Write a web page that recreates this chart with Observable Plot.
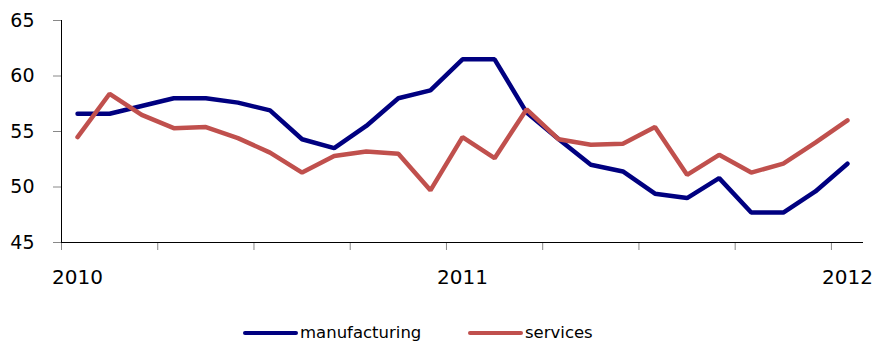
<!DOCTYPE html>
<html>
<head>
<meta charset="utf-8">
<script src="https://cdn.jsdelivr.net/npm/d3@7"></script>
<script src="https://cdn.jsdelivr.net/npm/@observablehq/plot@0.6"></script>
<style>
  html, body { margin: 0; padding: 0; background: #fff; }
  #wrap { width: 874px; height: 344px; position: relative; font-family: "DejaVu Sans", sans-serif; }
  #legend { position: absolute; left: 0; top: 300px; width: 874px; height: 44px; }
  .item { position: absolute; top: 23px; display: flex; align-items: center; font-size: 16.5px; color: #000; }
  .sw { width: 55px; height: 4px; border-radius: 2px; margin-right: 2px; }
</style>
</head>
<body>
<div id="wrap">
  <div id="chart"></div>
  <div id="legend"></div>
</div>
<script>
const months = ["2010-01","2010-02","2010-03","2010-04","2010-05","2010-06","2010-07","2010-08","2010-09","2010-10","2010-11","2010-12",
                "2011-01","2011-02","2011-03","2011-04","2011-05","2011-06","2011-07","2011-08","2011-09","2011-10","2011-11","2011-12","2012-01"];
const manufacturing = [56.6,56.6,57.3,58.0,58.0,57.6,56.9,54.3,53.5,55.5,58.0,58.7,61.5,61.5,56.7,54.3,52.0,51.4,49.4,49.0,50.8,47.7,47.7,49.6,52.1];
const services = [54.5,58.4,56.5,55.3,55.4,54.4,53.1,51.3,52.8,53.2,53.0,49.7,54.5,52.6,57.0,54.3,53.8,53.9,55.4,51.1,52.9,51.3,52.1,54.0,56.0];
const seriesNames = ["manufacturing", "services"];
const seriesColors = ["#000080", "#C0504D"];
const yearLabels = ["2010", "2011", "2012"];
const yTicks = [45, 50, 55, 60, 65];

const data = [];
months.forEach((m, i) => {
  data.push({i, month: m, series: seriesNames[0], value: manufacturing[i]});
  data.push({i, month: m, series: seriesNames[1], value: services[i]});
});
const yearIdx = yearLabels.map(y => months.indexOf(y + "-01"));
const boundaryTicks = d3.range(-0.5, months.length - 1, 3);

const chart = Plot.plot({
  width: 874,
  height: 300,
  marginLeft: 61,
  marginRight: 11,
  marginTop: 20,
  marginBottom: 58,
  style: {fontFamily: "DejaVu Sans, sans-serif", fontSize: "19px", color: "#000", background: "#fff"},
  x: {domain: [-0.5, months.length - 0.5]},
  y: {domain: [45, 65]},
  color: {domain: seriesNames, range: seriesColors},
  marks: [
    Plot.axisY({ticks: yTicks, tickSize: 8, tickPadding: 19, label: null, stroke: "#888", fontSize: 19}),
    Plot.axisX({ticks: boundaryTicks, tickSize: 8, tickFormat: () => "", label: null, stroke: "#888"}),
    Plot.axisX({ticks: yearIdx, tickSize: 0, tickPadding: 27, tickFormat: (d) => yearLabels[yearIdx.indexOf(d)], label: null, fontSize: 20}),
    Plot.ruleY([45], {stroke: "#000"}),
    Plot.ruleX([-0.5], {stroke: "#000"}),
    Plot.line(data, {x: "i", y: "value", z: "series", stroke: "series", strokeWidth: 4.5, strokeLinejoin: "miter"})
  ]
});
document.getElementById("chart").appendChild(chart);

const legend = document.getElementById("legend");
const lefts = [243, 468];
seriesNames.forEach((name, k) => {
  const it = document.createElement("div");
  it.className = "item";
  it.style.left = lefts[k] + "px";
  it.innerHTML = `<div class="sw" style="background:${seriesColors[k]}"></div><span>${name}</span>`;
  legend.appendChild(it);
});
</script>
</body>
</html>
